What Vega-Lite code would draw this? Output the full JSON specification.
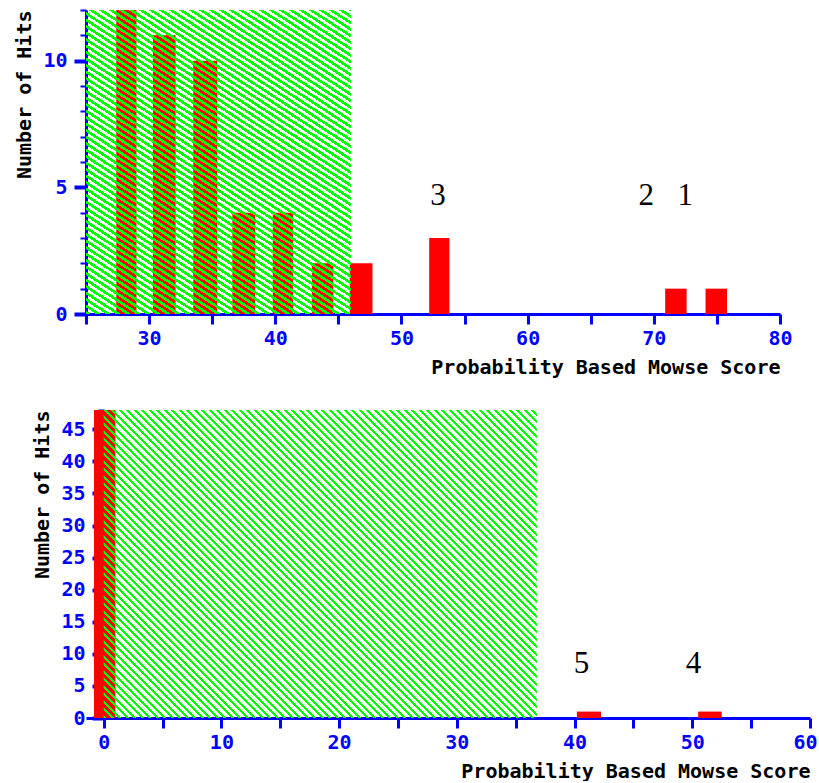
{
"$schema":"https://vega.github.io/schema/vega-lite/v6.json",
"background":"white",
"padding":{"left":14,"top":0,"right":0,"bottom":0},
"bounds":"flush",
"spacing":96,
"config":{"view":{"stroke":null},"axis":{"domainColor":"#0000ff","domainWidth":3,"tickColor":"#0000ff","tickWidth":3,"labelColor":"#0000ff","labelFont":"DejaVu Sans Mono","labelFontWeight":"bold","labelFontSize":20,"titleFont":"DejaVu Sans Mono","titleFontWeight":"bold","titleFontSize":20,"titleColor":"#000000","grid":false,"zindex":1,"labelFlush":false,"labelOverlap":false,"tickCount":100,"format":"d"}},
"vconcat":[
{"width":694,"height":304,"layer":[
{"data":{"values":[{"lo":27.4,"hi":29.0,"hits":12},{"lo":30.3,"hi":32.1,"hits":11},{"lo":33.5,"hi":35.4,"hits":10},{"lo":36.6,"hi":38.4,"hits":4},{"lo":39.8,"hi":41.4,"hits":4},{"lo":42.9,"hi":44.6,"hits":2},{"lo":45.9,"hi":47.7,"hits":2},{"lo":52.2,"hi":53.8,"hits":3},{"lo":70.9,"hi":72.6,"hits":1},{"lo":74.1,"hi":75.8,"hits":1}]},
"mark":{"type":"rect","color":"#ff0000"},
"encoding":{
"x":{"field":"lo","type":"quantitative","scale":{"domain":[25,80],"nice":false,"zero":false},"axis":{"values":[25,30,35,40,45,50,55,60,65,70,75,80],"tickCount":100,"format":"d","labelExpr":"datum.value % 10 === 0 ? datum.label : ''","labelOverlap":false,"tickSize":10,"labelPadding":4,"title":"Probability Based Mowse Score","titleAnchor":"end","titlePadding":9}},
"x2":{"field":"hi"},
"y":{"field":"hits","type":"quantitative","scale":{"domain":[0,12],"nice":false},"axis":{"values":[0,1,2,3,4,5,6,7,8,9,10,11,12],"tickCount":100,"format":"d","labelExpr":"datum.value % 5 === 0 ? datum.label : ''","labelOverlap":false,"tickSize":{"condition":{"test":"datum.value % 5 === 0","value":12},"value":6},"tickWidth":{"condition":{"test":"datum.value % 5 === 0","value":4},"value":2},"labelPadding":7,"title":"Number of Hits","titleAnchor":"end","titlePadding":8}},
"y2":{"datum":0}}},
{"data":{"values":[{"from":25,"to":46}]},
"mark":{"type":"rect","fill":{"gradient":"linear","x1":0,"y1":1,"x2":0.917,"y2":-0.619,"stops":[
{"offset":0,"color":"#0f0"},{"offset":0.005,"color":"#0f0"},{"offset":0.005,"color":"#0000"},{"offset":0.01,"color":"#0000"},
{"offset":0.01,"color":"#0f0"},{"offset":0.015,"color":"#0f0"},{"offset":0.015,"color":"#0000"},{"offset":0.02,"color":"#0000"},
{"offset":0.02,"color":"#0f0"},{"offset":0.025,"color":"#0f0"},{"offset":0.025,"color":"#0000"},{"offset":0.03,"color":"#0000"},
{"offset":0.03,"color":"#0f0"},{"offset":0.035,"color":"#0f0"},{"offset":0.035,"color":"#0000"},{"offset":0.04,"color":"#0000"},
{"offset":0.04,"color":"#0f0"},{"offset":0.045,"color":"#0f0"},{"offset":0.045,"color":"#0000"},{"offset":0.05,"color":"#0000"},
{"offset":0.05,"color":"#0f0"},{"offset":0.055,"color":"#0f0"},{"offset":0.055,"color":"#0000"},{"offset":0.06,"color":"#0000"},
{"offset":0.06,"color":"#0f0"},{"offset":0.065,"color":"#0f0"},{"offset":0.065,"color":"#0000"},{"offset":0.07,"color":"#0000"},
{"offset":0.07,"color":"#0f0"},{"offset":0.075,"color":"#0f0"},{"offset":0.075,"color":"#0000"},{"offset":0.08,"color":"#0000"},
{"offset":0.08,"color":"#0f0"},{"offset":0.085,"color":"#0f0"},{"offset":0.085,"color":"#0000"},{"offset":0.09,"color":"#0000"},
{"offset":0.09,"color":"#0f0"},{"offset":0.095,"color":"#0f0"},{"offset":0.095,"color":"#0000"},{"offset":0.1,"color":"#0000"},
{"offset":0.1,"color":"#0f0"},{"offset":0.105,"color":"#0f0"},{"offset":0.105,"color":"#0000"},{"offset":0.11,"color":"#0000"},
{"offset":0.11,"color":"#0f0"},{"offset":0.115,"color":"#0f0"},{"offset":0.115,"color":"#0000"},{"offset":0.12,"color":"#0000"},
{"offset":0.12,"color":"#0f0"},{"offset":0.125,"color":"#0f0"},{"offset":0.125,"color":"#0000"},{"offset":0.13,"color":"#0000"},
{"offset":0.13,"color":"#0f0"},{"offset":0.135,"color":"#0f0"},{"offset":0.135,"color":"#0000"},{"offset":0.14,"color":"#0000"},
{"offset":0.14,"color":"#0f0"},{"offset":0.145,"color":"#0f0"},{"offset":0.145,"color":"#0000"},{"offset":0.15,"color":"#0000"},
{"offset":0.15,"color":"#0f0"},{"offset":0.155,"color":"#0f0"},{"offset":0.155,"color":"#0000"},{"offset":0.16,"color":"#0000"},
{"offset":0.16,"color":"#0f0"},{"offset":0.165,"color":"#0f0"},{"offset":0.165,"color":"#0000"},{"offset":0.17,"color":"#0000"},
{"offset":0.17,"color":"#0f0"},{"offset":0.175,"color":"#0f0"},{"offset":0.175,"color":"#0000"},{"offset":0.18,"color":"#0000"},
{"offset":0.18,"color":"#0f0"},{"offset":0.185,"color":"#0f0"},{"offset":0.185,"color":"#0000"},{"offset":0.19,"color":"#0000"},
{"offset":0.19,"color":"#0f0"},{"offset":0.195,"color":"#0f0"},{"offset":0.195,"color":"#0000"},{"offset":0.2,"color":"#0000"},
{"offset":0.2,"color":"#0f0"},{"offset":0.205,"color":"#0f0"},{"offset":0.205,"color":"#0000"},{"offset":0.21,"color":"#0000"},
{"offset":0.21,"color":"#0f0"},{"offset":0.215,"color":"#0f0"},{"offset":0.215,"color":"#0000"},{"offset":0.22,"color":"#0000"},
{"offset":0.22,"color":"#0f0"},{"offset":0.225,"color":"#0f0"},{"offset":0.225,"color":"#0000"},{"offset":0.23,"color":"#0000"},
{"offset":0.23,"color":"#0f0"},{"offset":0.235,"color":"#0f0"},{"offset":0.235,"color":"#0000"},{"offset":0.24,"color":"#0000"},
{"offset":0.24,"color":"#0f0"},{"offset":0.245,"color":"#0f0"},{"offset":0.245,"color":"#0000"},{"offset":0.25,"color":"#0000"},
{"offset":0.25,"color":"#0f0"},{"offset":0.255,"color":"#0f0"},{"offset":0.255,"color":"#0000"},{"offset":0.26,"color":"#0000"},
{"offset":0.26,"color":"#0f0"},{"offset":0.265,"color":"#0f0"},{"offset":0.265,"color":"#0000"},{"offset":0.27,"color":"#0000"},
{"offset":0.27,"color":"#0f0"},{"offset":0.275,"color":"#0f0"},{"offset":0.275,"color":"#0000"},{"offset":0.28,"color":"#0000"},
{"offset":0.28,"color":"#0f0"},{"offset":0.285,"color":"#0f0"},{"offset":0.285,"color":"#0000"},{"offset":0.29,"color":"#0000"},
{"offset":0.29,"color":"#0f0"},{"offset":0.295,"color":"#0f0"},{"offset":0.295,"color":"#0000"},{"offset":0.3,"color":"#0000"},
{"offset":0.3,"color":"#0f0"},{"offset":0.305,"color":"#0f0"},{"offset":0.305,"color":"#0000"},{"offset":0.31,"color":"#0000"},
{"offset":0.31,"color":"#0f0"},{"offset":0.315,"color":"#0f0"},{"offset":0.315,"color":"#0000"},{"offset":0.32,"color":"#0000"},
{"offset":0.32,"color":"#0f0"},{"offset":0.325,"color":"#0f0"},{"offset":0.325,"color":"#0000"},{"offset":0.33,"color":"#0000"},
{"offset":0.33,"color":"#0f0"},{"offset":0.335,"color":"#0f0"},{"offset":0.335,"color":"#0000"},{"offset":0.34,"color":"#0000"},
{"offset":0.34,"color":"#0f0"},{"offset":0.345,"color":"#0f0"},{"offset":0.345,"color":"#0000"},{"offset":0.35,"color":"#0000"},
{"offset":0.35,"color":"#0f0"},{"offset":0.355,"color":"#0f0"},{"offset":0.355,"color":"#0000"},{"offset":0.36,"color":"#0000"},
{"offset":0.36,"color":"#0f0"},{"offset":0.365,"color":"#0f0"},{"offset":0.365,"color":"#0000"},{"offset":0.37,"color":"#0000"},
{"offset":0.37,"color":"#0f0"},{"offset":0.375,"color":"#0f0"},{"offset":0.375,"color":"#0000"},{"offset":0.38,"color":"#0000"},
{"offset":0.38,"color":"#0f0"},{"offset":0.385,"color":"#0f0"},{"offset":0.385,"color":"#0000"},{"offset":0.39,"color":"#0000"},
{"offset":0.39,"color":"#0f0"},{"offset":0.395,"color":"#0f0"},{"offset":0.395,"color":"#0000"},{"offset":0.4,"color":"#0000"},
{"offset":0.4,"color":"#0f0"},{"offset":0.405,"color":"#0f0"},{"offset":0.405,"color":"#0000"},{"offset":0.41,"color":"#0000"},
{"offset":0.41,"color":"#0f0"},{"offset":0.415,"color":"#0f0"},{"offset":0.415,"color":"#0000"},{"offset":0.42,"color":"#0000"},
{"offset":0.42,"color":"#0f0"},{"offset":0.425,"color":"#0f0"},{"offset":0.425,"color":"#0000"},{"offset":0.43,"color":"#0000"},
{"offset":0.43,"color":"#0f0"},{"offset":0.435,"color":"#0f0"},{"offset":0.435,"color":"#0000"},{"offset":0.44,"color":"#0000"},
{"offset":0.44,"color":"#0f0"},{"offset":0.445,"color":"#0f0"},{"offset":0.445,"color":"#0000"},{"offset":0.45,"color":"#0000"},
{"offset":0.45,"color":"#0f0"},{"offset":0.455,"color":"#0f0"},{"offset":0.455,"color":"#0000"},{"offset":0.46,"color":"#0000"},
{"offset":0.46,"color":"#0f0"},{"offset":0.465,"color":"#0f0"},{"offset":0.465,"color":"#0000"},{"offset":0.47,"color":"#0000"},
{"offset":0.47,"color":"#0f0"},{"offset":0.475,"color":"#0f0"},{"offset":0.475,"color":"#0000"},{"offset":0.48,"color":"#0000"},
{"offset":0.48,"color":"#0f0"},{"offset":0.485,"color":"#0f0"},{"offset":0.485,"color":"#0000"},{"offset":0.49,"color":"#0000"},
{"offset":0.49,"color":"#0f0"},{"offset":0.495,"color":"#0f0"},{"offset":0.495,"color":"#0000"},{"offset":0.5,"color":"#0000"},
{"offset":0.5,"color":"#0f0"},{"offset":0.505,"color":"#0f0"},{"offset":0.505,"color":"#0000"},{"offset":0.51,"color":"#0000"},
{"offset":0.51,"color":"#0f0"},{"offset":0.515,"color":"#0f0"},{"offset":0.515,"color":"#0000"},{"offset":0.52,"color":"#0000"},
{"offset":0.52,"color":"#0f0"},{"offset":0.525,"color":"#0f0"},{"offset":0.525,"color":"#0000"},{"offset":0.53,"color":"#0000"},
{"offset":0.53,"color":"#0f0"},{"offset":0.535,"color":"#0f0"},{"offset":0.535,"color":"#0000"},{"offset":0.54,"color":"#0000"},
{"offset":0.54,"color":"#0f0"},{"offset":0.545,"color":"#0f0"},{"offset":0.545,"color":"#0000"},{"offset":0.55,"color":"#0000"},
{"offset":0.55,"color":"#0f0"},{"offset":0.555,"color":"#0f0"},{"offset":0.555,"color":"#0000"},{"offset":0.56,"color":"#0000"},
{"offset":0.56,"color":"#0f0"},{"offset":0.565,"color":"#0f0"},{"offset":0.565,"color":"#0000"},{"offset":0.57,"color":"#0000"},
{"offset":0.57,"color":"#0f0"},{"offset":0.575,"color":"#0f0"},{"offset":0.575,"color":"#0000"},{"offset":0.58,"color":"#0000"},
{"offset":0.58,"color":"#0f0"},{"offset":0.585,"color":"#0f0"},{"offset":0.585,"color":"#0000"},{"offset":0.59,"color":"#0000"},
{"offset":0.59,"color":"#0f0"},{"offset":0.595,"color":"#0f0"},{"offset":0.595,"color":"#0000"},{"offset":0.6,"color":"#0000"},
{"offset":0.6,"color":"#0f0"},{"offset":0.605,"color":"#0f0"},{"offset":0.605,"color":"#0000"},{"offset":0.61,"color":"#0000"},
{"offset":0.61,"color":"#0f0"},{"offset":0.615,"color":"#0f0"},{"offset":0.615,"color":"#0000"},{"offset":0.62,"color":"#0000"},
{"offset":0.62,"color":"#0f0"},{"offset":0.625,"color":"#0f0"},{"offset":0.625,"color":"#0000"},{"offset":0.63,"color":"#0000"},
{"offset":0.63,"color":"#0f0"},{"offset":0.635,"color":"#0f0"},{"offset":0.635,"color":"#0000"},{"offset":0.64,"color":"#0000"},
{"offset":0.64,"color":"#0f0"},{"offset":0.645,"color":"#0f0"},{"offset":0.645,"color":"#0000"},{"offset":0.65,"color":"#0000"},
{"offset":0.65,"color":"#0f0"},{"offset":0.655,"color":"#0f0"},{"offset":0.655,"color":"#0000"},{"offset":0.66,"color":"#0000"},
{"offset":0.66,"color":"#0f0"},{"offset":0.665,"color":"#0f0"},{"offset":0.665,"color":"#0000"},{"offset":0.67,"color":"#0000"},
{"offset":0.67,"color":"#0f0"},{"offset":0.675,"color":"#0f0"},{"offset":0.675,"color":"#0000"},{"offset":0.68,"color":"#0000"},
{"offset":0.68,"color":"#0f0"},{"offset":0.685,"color":"#0f0"},{"offset":0.685,"color":"#0000"},{"offset":0.69,"color":"#0000"},
{"offset":0.69,"color":"#0f0"},{"offset":0.695,"color":"#0f0"},{"offset":0.695,"color":"#0000"},{"offset":0.7,"color":"#0000"},
{"offset":0.7,"color":"#0f0"},{"offset":0.705,"color":"#0f0"},{"offset":0.705,"color":"#0000"},{"offset":0.71,"color":"#0000"},
{"offset":0.71,"color":"#0f0"},{"offset":0.715,"color":"#0f0"},{"offset":0.715,"color":"#0000"},{"offset":0.72,"color":"#0000"},
{"offset":0.72,"color":"#0f0"},{"offset":0.725,"color":"#0f0"},{"offset":0.725,"color":"#0000"},{"offset":0.73,"color":"#0000"},
{"offset":0.73,"color":"#0f0"},{"offset":0.735,"color":"#0f0"},{"offset":0.735,"color":"#0000"},{"offset":0.74,"color":"#0000"}
]}},
"encoding":{"x":{"field":"from","type":"quantitative"},"x2":{"field":"to"}}},
{"data":{"values":[{"score":52.9,"pos":4.3,"rank":"3"},{"score":69.4,"pos":4.3,"rank":"2"},{"score":72.5,"pos":4.3,"rank":"1"}]},
"mark":{"type":"text","font":"Liberation Serif","fontSize":31,"baseline":"alphabetic","align":"center","color":"#000000"},
"encoding":{"x":{"field":"score","type":"quantitative"},"y":{"field":"pos","type":"quantitative"},"text":{"field":"rank"}}}
]},
{"width":724,"height":308,"layer":[
{"data":{"values":[{"lo":-0.82,"hi":1.0,"hits":48},{"lo":40.2,"hi":42.25,"hits":1},{"lo":50.5,"hi":52.5,"hits":1}]},
"mark":{"type":"rect","color":"#ff0000","clip":true},
"encoding":{
"x":{"field":"lo","type":"quantitative","scale":{"domain":[-1.5,60],"nice":false,"zero":false},"axis":{"values":[0,5,10,15,20,25,30,35,40,45,50,55,60],"tickCount":100,"format":"d","labelExpr":"datum.value % 10 === 0 ? datum.label : ''","labelOverlap":false,"labelOffset":{"condition":{"test":"datum.value === 60","value":-5},"value":0},"tickSize":10,"labelPadding":4,"title":"Probability Based Mowse Score","titleAnchor":"end","titlePadding":9}},
"x2":{"field":"hi"},
"y":{"field":"hits","type":"quantitative","scale":{"domain":[0,48],"nice":false},"axis":{"values":[0,1,2,3,4,5,6,7,8,9,10,11,12,13,14,15,16,17,18,19,20,21,22,23,24,25,26,27,28,29,30,31,32,33,34,35,36,37,38,39,40,41,42,43,44,45,46,47,48],"tickCount":100,"format":"d","labelExpr":"datum.value % 5 === 0 ? datum.label : ''","labelOverlap":false,"tickSize":{"condition":{"test":"datum.value % 5 === 0","value":12},"value":6},"tickWidth":{"condition":{"test":"datum.value % 5 === 0","value":4},"value":2},"labelPadding":7,"offset":-18,"title":"Number of Hits","titleAnchor":"end","titlePadding":8}},
"y2":{"datum":0}}},
{"data":{"values":[{"from":0,"to":36.8}]},
"mark":{"type":"rect","fill":{"gradient":"linear","x1":0,"y1":1,"x2":1.15,"y2":0.182,"stops":[
{"offset":0,"color":"#0f0"},{"offset":0.004,"color":"#0f0"},{"offset":0.004,"color":"#0000"},{"offset":0.01,"color":"#0000"},
{"offset":0.01,"color":"#0f0"},{"offset":0.014,"color":"#0f0"},{"offset":0.014,"color":"#0000"},{"offset":0.02,"color":"#0000"},
{"offset":0.02,"color":"#0f0"},{"offset":0.024,"color":"#0f0"},{"offset":0.024,"color":"#0000"},{"offset":0.03,"color":"#0000"},
{"offset":0.03,"color":"#0f0"},{"offset":0.034,"color":"#0f0"},{"offset":0.034,"color":"#0000"},{"offset":0.04,"color":"#0000"},
{"offset":0.04,"color":"#0f0"},{"offset":0.044,"color":"#0f0"},{"offset":0.044,"color":"#0000"},{"offset":0.05,"color":"#0000"},
{"offset":0.05,"color":"#0f0"},{"offset":0.054,"color":"#0f0"},{"offset":0.054,"color":"#0000"},{"offset":0.06,"color":"#0000"},
{"offset":0.06,"color":"#0f0"},{"offset":0.064,"color":"#0f0"},{"offset":0.064,"color":"#0000"},{"offset":0.07,"color":"#0000"},
{"offset":0.07,"color":"#0f0"},{"offset":0.074,"color":"#0f0"},{"offset":0.074,"color":"#0000"},{"offset":0.08,"color":"#0000"},
{"offset":0.08,"color":"#0f0"},{"offset":0.084,"color":"#0f0"},{"offset":0.084,"color":"#0000"},{"offset":0.09,"color":"#0000"},
{"offset":0.09,"color":"#0f0"},{"offset":0.094,"color":"#0f0"},{"offset":0.094,"color":"#0000"},{"offset":0.1,"color":"#0000"},
{"offset":0.1,"color":"#0f0"},{"offset":0.104,"color":"#0f0"},{"offset":0.104,"color":"#0000"},{"offset":0.11,"color":"#0000"},
{"offset":0.11,"color":"#0f0"},{"offset":0.114,"color":"#0f0"},{"offset":0.114,"color":"#0000"},{"offset":0.12,"color":"#0000"},
{"offset":0.12,"color":"#0f0"},{"offset":0.124,"color":"#0f0"},{"offset":0.124,"color":"#0000"},{"offset":0.13,"color":"#0000"},
{"offset":0.13,"color":"#0f0"},{"offset":0.134,"color":"#0f0"},{"offset":0.134,"color":"#0000"},{"offset":0.14,"color":"#0000"},
{"offset":0.14,"color":"#0f0"},{"offset":0.144,"color":"#0f0"},{"offset":0.144,"color":"#0000"},{"offset":0.15,"color":"#0000"},
{"offset":0.15,"color":"#0f0"},{"offset":0.154,"color":"#0f0"},{"offset":0.154,"color":"#0000"},{"offset":0.16,"color":"#0000"},
{"offset":0.16,"color":"#0f0"},{"offset":0.164,"color":"#0f0"},{"offset":0.164,"color":"#0000"},{"offset":0.17,"color":"#0000"},
{"offset":0.17,"color":"#0f0"},{"offset":0.174,"color":"#0f0"},{"offset":0.174,"color":"#0000"},{"offset":0.18,"color":"#0000"},
{"offset":0.18,"color":"#0f0"},{"offset":0.184,"color":"#0f0"},{"offset":0.184,"color":"#0000"},{"offset":0.19,"color":"#0000"},
{"offset":0.19,"color":"#0f0"},{"offset":0.194,"color":"#0f0"},{"offset":0.194,"color":"#0000"},{"offset":0.2,"color":"#0000"},
{"offset":0.2,"color":"#0f0"},{"offset":0.204,"color":"#0f0"},{"offset":0.204,"color":"#0000"},{"offset":0.21,"color":"#0000"},
{"offset":0.21,"color":"#0f0"},{"offset":0.214,"color":"#0f0"},{"offset":0.214,"color":"#0000"},{"offset":0.22,"color":"#0000"},
{"offset":0.22,"color":"#0f0"},{"offset":0.224,"color":"#0f0"},{"offset":0.224,"color":"#0000"},{"offset":0.23,"color":"#0000"},
{"offset":0.23,"color":"#0f0"},{"offset":0.234,"color":"#0f0"},{"offset":0.234,"color":"#0000"},{"offset":0.24,"color":"#0000"},
{"offset":0.24,"color":"#0f0"},{"offset":0.244,"color":"#0f0"},{"offset":0.244,"color":"#0000"},{"offset":0.25,"color":"#0000"},
{"offset":0.25,"color":"#0f0"},{"offset":0.254,"color":"#0f0"},{"offset":0.254,"color":"#0000"},{"offset":0.26,"color":"#0000"},
{"offset":0.26,"color":"#0f0"},{"offset":0.264,"color":"#0f0"},{"offset":0.264,"color":"#0000"},{"offset":0.27,"color":"#0000"},
{"offset":0.27,"color":"#0f0"},{"offset":0.274,"color":"#0f0"},{"offset":0.274,"color":"#0000"},{"offset":0.28,"color":"#0000"},
{"offset":0.28,"color":"#0f0"},{"offset":0.284,"color":"#0f0"},{"offset":0.284,"color":"#0000"},{"offset":0.29,"color":"#0000"},
{"offset":0.29,"color":"#0f0"},{"offset":0.294,"color":"#0f0"},{"offset":0.294,"color":"#0000"},{"offset":0.3,"color":"#0000"},
{"offset":0.3,"color":"#0f0"},{"offset":0.304,"color":"#0f0"},{"offset":0.304,"color":"#0000"},{"offset":0.31,"color":"#0000"},
{"offset":0.31,"color":"#0f0"},{"offset":0.314,"color":"#0f0"},{"offset":0.314,"color":"#0000"},{"offset":0.32,"color":"#0000"},
{"offset":0.32,"color":"#0f0"},{"offset":0.324,"color":"#0f0"},{"offset":0.324,"color":"#0000"},{"offset":0.33,"color":"#0000"},
{"offset":0.33,"color":"#0f0"},{"offset":0.334,"color":"#0f0"},{"offset":0.334,"color":"#0000"},{"offset":0.34,"color":"#0000"},
{"offset":0.34,"color":"#0f0"},{"offset":0.344,"color":"#0f0"},{"offset":0.344,"color":"#0000"},{"offset":0.35,"color":"#0000"},
{"offset":0.35,"color":"#0f0"},{"offset":0.354,"color":"#0f0"},{"offset":0.354,"color":"#0000"},{"offset":0.36,"color":"#0000"},
{"offset":0.36,"color":"#0f0"},{"offset":0.364,"color":"#0f0"},{"offset":0.364,"color":"#0000"},{"offset":0.37,"color":"#0000"},
{"offset":0.37,"color":"#0f0"},{"offset":0.374,"color":"#0f0"},{"offset":0.374,"color":"#0000"},{"offset":0.38,"color":"#0000"},
{"offset":0.38,"color":"#0f0"},{"offset":0.384,"color":"#0f0"},{"offset":0.384,"color":"#0000"},{"offset":0.39,"color":"#0000"},
{"offset":0.39,"color":"#0f0"},{"offset":0.394,"color":"#0f0"},{"offset":0.394,"color":"#0000"},{"offset":0.4,"color":"#0000"},
{"offset":0.4,"color":"#0f0"},{"offset":0.404,"color":"#0f0"},{"offset":0.404,"color":"#0000"},{"offset":0.41,"color":"#0000"},
{"offset":0.41,"color":"#0f0"},{"offset":0.414,"color":"#0f0"},{"offset":0.414,"color":"#0000"},{"offset":0.42,"color":"#0000"},
{"offset":0.42,"color":"#0f0"},{"offset":0.424,"color":"#0f0"},{"offset":0.424,"color":"#0000"},{"offset":0.43,"color":"#0000"},
{"offset":0.43,"color":"#0f0"},{"offset":0.434,"color":"#0f0"},{"offset":0.434,"color":"#0000"},{"offset":0.44,"color":"#0000"},
{"offset":0.44,"color":"#0f0"},{"offset":0.444,"color":"#0f0"},{"offset":0.444,"color":"#0000"},{"offset":0.45,"color":"#0000"},
{"offset":0.45,"color":"#0f0"},{"offset":0.454,"color":"#0f0"},{"offset":0.454,"color":"#0000"},{"offset":0.46,"color":"#0000"},
{"offset":0.46,"color":"#0f0"},{"offset":0.464,"color":"#0f0"},{"offset":0.464,"color":"#0000"},{"offset":0.47,"color":"#0000"},
{"offset":0.47,"color":"#0f0"},{"offset":0.474,"color":"#0f0"},{"offset":0.474,"color":"#0000"},{"offset":0.48,"color":"#0000"},
{"offset":0.48,"color":"#0f0"},{"offset":0.484,"color":"#0f0"},{"offset":0.484,"color":"#0000"},{"offset":0.49,"color":"#0000"},
{"offset":0.49,"color":"#0f0"},{"offset":0.494,"color":"#0f0"},{"offset":0.494,"color":"#0000"},{"offset":0.5,"color":"#0000"},
{"offset":0.5,"color":"#0f0"},{"offset":0.504,"color":"#0f0"},{"offset":0.504,"color":"#0000"},{"offset":0.51,"color":"#0000"},
{"offset":0.51,"color":"#0f0"},{"offset":0.514,"color":"#0f0"},{"offset":0.514,"color":"#0000"},{"offset":0.52,"color":"#0000"},
{"offset":0.52,"color":"#0f0"},{"offset":0.524,"color":"#0f0"},{"offset":0.524,"color":"#0000"},{"offset":0.53,"color":"#0000"},
{"offset":0.53,"color":"#0f0"},{"offset":0.534,"color":"#0f0"},{"offset":0.534,"color":"#0000"},{"offset":0.54,"color":"#0000"},
{"offset":0.54,"color":"#0f0"},{"offset":0.544,"color":"#0f0"},{"offset":0.544,"color":"#0000"},{"offset":0.55,"color":"#0000"},
{"offset":0.55,"color":"#0f0"},{"offset":0.554,"color":"#0f0"},{"offset":0.554,"color":"#0000"},{"offset":0.56,"color":"#0000"},
{"offset":0.56,"color":"#0f0"},{"offset":0.564,"color":"#0f0"},{"offset":0.564,"color":"#0000"},{"offset":0.57,"color":"#0000"},
{"offset":0.57,"color":"#0f0"},{"offset":0.574,"color":"#0f0"},{"offset":0.574,"color":"#0000"},{"offset":0.58,"color":"#0000"},
{"offset":0.58,"color":"#0f0"},{"offset":0.584,"color":"#0f0"},{"offset":0.584,"color":"#0000"},{"offset":0.59,"color":"#0000"},
{"offset":0.59,"color":"#0f0"},{"offset":0.594,"color":"#0f0"},{"offset":0.594,"color":"#0000"},{"offset":0.6,"color":"#0000"},
{"offset":0.6,"color":"#0f0"},{"offset":0.604,"color":"#0f0"},{"offset":0.604,"color":"#0000"},{"offset":0.61,"color":"#0000"},
{"offset":0.61,"color":"#0f0"},{"offset":0.614,"color":"#0f0"},{"offset":0.614,"color":"#0000"},{"offset":0.62,"color":"#0000"},
{"offset":0.62,"color":"#0f0"},{"offset":0.624,"color":"#0f0"},{"offset":0.624,"color":"#0000"},{"offset":0.63,"color":"#0000"},
{"offset":0.63,"color":"#0f0"},{"offset":0.634,"color":"#0f0"},{"offset":0.634,"color":"#0000"},{"offset":0.64,"color":"#0000"},
{"offset":0.64,"color":"#0f0"},{"offset":0.644,"color":"#0f0"},{"offset":0.644,"color":"#0000"},{"offset":0.65,"color":"#0000"},
{"offset":0.65,"color":"#0f0"},{"offset":0.654,"color":"#0f0"},{"offset":0.654,"color":"#0000"},{"offset":0.66,"color":"#0000"},
{"offset":0.66,"color":"#0f0"},{"offset":0.664,"color":"#0f0"},{"offset":0.664,"color":"#0000"},{"offset":0.67,"color":"#0000"},
{"offset":0.67,"color":"#0f0"},{"offset":0.674,"color":"#0f0"},{"offset":0.674,"color":"#0000"},{"offset":0.68,"color":"#0000"},
{"offset":0.68,"color":"#0f0"},{"offset":0.684,"color":"#0f0"},{"offset":0.684,"color":"#0000"},{"offset":0.69,"color":"#0000"},
{"offset":0.69,"color":"#0f0"},{"offset":0.694,"color":"#0f0"},{"offset":0.694,"color":"#0000"},{"offset":0.7,"color":"#0000"},
{"offset":0.7,"color":"#0f0"},{"offset":0.704,"color":"#0f0"},{"offset":0.704,"color":"#0000"},{"offset":0.71,"color":"#0000"},
{"offset":0.71,"color":"#0f0"},{"offset":0.714,"color":"#0f0"},{"offset":0.714,"color":"#0000"},{"offset":0.72,"color":"#0000"},
{"offset":0.72,"color":"#0f0"},{"offset":0.724,"color":"#0f0"},{"offset":0.724,"color":"#0000"},{"offset":0.73,"color":"#0000"},
{"offset":0.73,"color":"#0f0"},{"offset":0.734,"color":"#0f0"},{"offset":0.734,"color":"#0000"},{"offset":0.74,"color":"#0000"},
{"offset":0.74,"color":"#0f0"},{"offset":0.744,"color":"#0f0"},{"offset":0.744,"color":"#0000"},{"offset":0.75,"color":"#0000"},
{"offset":0.75,"color":"#0f0"},{"offset":0.754,"color":"#0f0"},{"offset":0.754,"color":"#0000"},{"offset":0.76,"color":"#0000"},
{"offset":0.76,"color":"#0f0"},{"offset":0.764,"color":"#0f0"},{"offset":0.764,"color":"#0000"},{"offset":0.77,"color":"#0000"},
{"offset":0.77,"color":"#0f0"},{"offset":0.774,"color":"#0f0"},{"offset":0.774,"color":"#0000"},{"offset":0.78,"color":"#0000"},
{"offset":0.78,"color":"#0f0"},{"offset":0.784,"color":"#0f0"},{"offset":0.784,"color":"#0000"},{"offset":0.79,"color":"#0000"},
{"offset":0.79,"color":"#0f0"},{"offset":0.794,"color":"#0f0"},{"offset":0.794,"color":"#0000"},{"offset":0.8,"color":"#0000"},
{"offset":0.8,"color":"#0f0"},{"offset":0.804,"color":"#0f0"},{"offset":0.804,"color":"#0000"},{"offset":0.81,"color":"#0000"},
{"offset":0.81,"color":"#0f0"},{"offset":0.814,"color":"#0f0"},{"offset":0.814,"color":"#0000"},{"offset":0.82,"color":"#0000"},
{"offset":0.82,"color":"#0f0"},{"offset":0.824,"color":"#0f0"},{"offset":0.824,"color":"#0000"},{"offset":0.83,"color":"#0000"},
{"offset":0.83,"color":"#0f0"},{"offset":0.834,"color":"#0f0"},{"offset":0.834,"color":"#0000"},{"offset":0.84,"color":"#0000"},
{"offset":0.84,"color":"#0f0"},{"offset":0.844,"color":"#0f0"},{"offset":0.844,"color":"#0000"},{"offset":0.85,"color":"#0000"},
{"offset":0.85,"color":"#0f0"},{"offset":0.854,"color":"#0f0"},{"offset":0.854,"color":"#0000"},{"offset":0.86,"color":"#0000"},
{"offset":0.86,"color":"#0f0"},{"offset":0.864,"color":"#0f0"},{"offset":0.864,"color":"#0000"},{"offset":0.87,"color":"#0000"},
{"offset":0.87,"color":"#0f0"},{"offset":0.874,"color":"#0f0"},{"offset":0.874,"color":"#0000"},{"offset":0.88,"color":"#0000"},
{"offset":0.88,"color":"#0f0"},{"offset":0.884,"color":"#0f0"},{"offset":0.884,"color":"#0000"},{"offset":0.89,"color":"#0000"},
{"offset":0.89,"color":"#0f0"},{"offset":0.894,"color":"#0f0"},{"offset":0.894,"color":"#0000"},{"offset":0.9,"color":"#0000"},
{"offset":0.9,"color":"#0f0"},{"offset":0.904,"color":"#0f0"},{"offset":0.904,"color":"#0000"},{"offset":0.91,"color":"#0000"},
{"offset":0.91,"color":"#0f0"},{"offset":0.914,"color":"#0f0"},{"offset":0.914,"color":"#0000"},{"offset":0.92,"color":"#0000"},
{"offset":0.92,"color":"#0f0"},{"offset":0.924,"color":"#0f0"},{"offset":0.924,"color":"#0000"},{"offset":0.93,"color":"#0000"},
{"offset":0.93,"color":"#0f0"},{"offset":0.934,"color":"#0f0"},{"offset":0.934,"color":"#0000"},{"offset":0.94,"color":"#0000"},
{"offset":0.94,"color":"#0f0"},{"offset":0.944,"color":"#0f0"},{"offset":0.944,"color":"#0000"},{"offset":0.95,"color":"#0000"},
{"offset":0.95,"color":"#0f0"},{"offset":0.954,"color":"#0f0"},{"offset":0.954,"color":"#0000"},{"offset":0.96,"color":"#0000"},
{"offset":0.96,"color":"#0f0"},{"offset":0.964,"color":"#0f0"},{"offset":0.964,"color":"#0000"},{"offset":0.97,"color":"#0000"},
{"offset":0.97,"color":"#0f0"},{"offset":0.974,"color":"#0f0"},{"offset":0.974,"color":"#0000"},{"offset":0.98,"color":"#0000"},
{"offset":0.98,"color":"#0f0"},{"offset":0.984,"color":"#0f0"},{"offset":0.984,"color":"#0000"},{"offset":0.99,"color":"#0000"},
{"offset":0.99,"color":"#0f0"},{"offset":0.994,"color":"#0f0"},{"offset":0.994,"color":"#0000"},{"offset":1,"color":"#0000"}
]}},
"encoding":{"x":{"field":"from","type":"quantitative"},"x2":{"field":"to"}}},
{"data":{"values":[{"score":40.6,"pos":7,"rank":"5"},{"score":50.1,"pos":7,"rank":"4"}]},
"mark":{"type":"text","font":"Liberation Serif","fontSize":31,"baseline":"alphabetic","align":"center","color":"#000000"},
"encoding":{"x":{"field":"score","type":"quantitative"},"y":{"field":"pos","type":"quantitative"},"text":{"field":"rank"}}}
]}
]
}
